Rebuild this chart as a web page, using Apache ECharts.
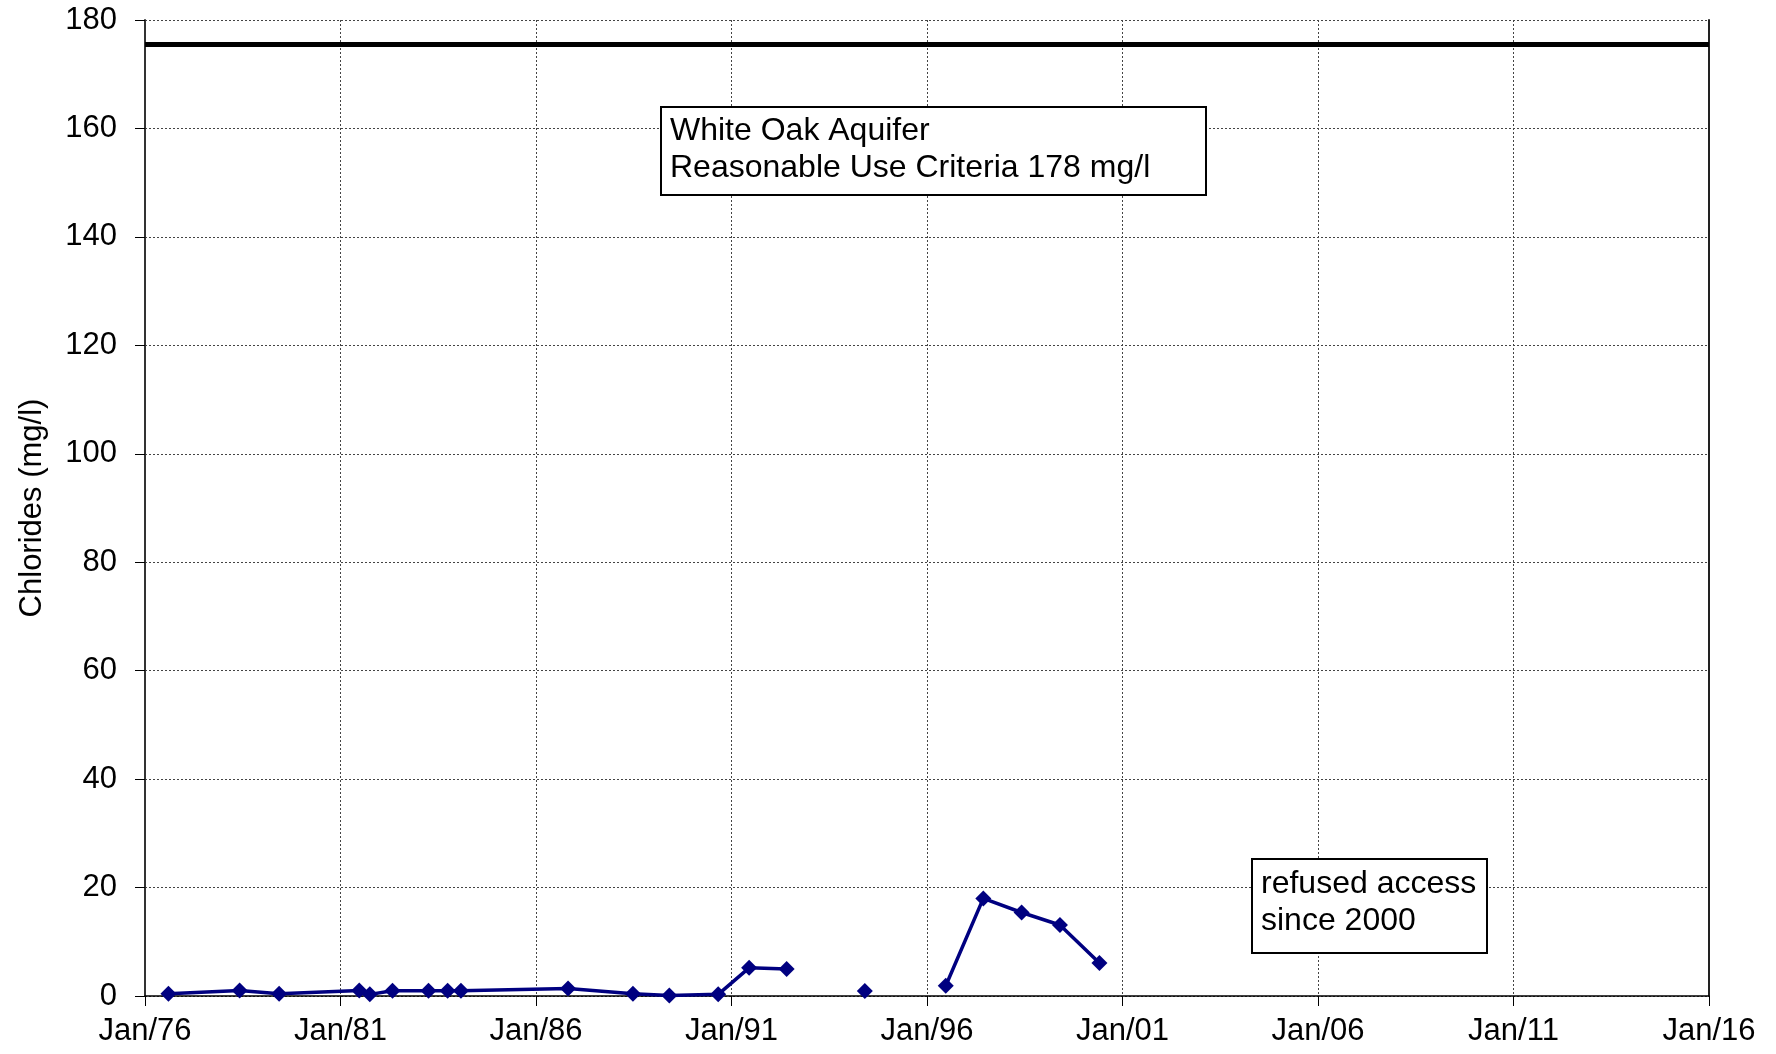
<!DOCTYPE html>
<html>
<head>
<meta charset="utf-8">
<title>White Oak Aquifer chlorides</title>
<script src="https://cdn.jsdelivr.net/npm/echarts@6/dist/echarts.min.js"></script>
<style>
  html, body { margin: 0; padding: 0; background: #fff; }
  #chart { width: 1776px; height: 1054px; }
</style>
</head>
<body>
<div id="chart"></div>
<script>
// sample dates as decimal years, chloride values in mg/l (null = gap in the line)
const sampleYears = [1976.60, 1978.42, 1979.43, 1981.48, 1981.75, 1982.33, 1983.25, 1983.74, 1984.08,
  1986.82, 1988.48, 1989.41, 1990.66, 1991.45, 1992.41, 1993.40, 1994.41, 1995.40,
  1996.48, 1997.44, 1998.42, 1999.40, 2000.41];
const chlorides = [0.4, 1.0, 0.4, 1.0, 0.3, 0.95, 0.95, 0.95, 0.95,
  1.4, 0.4, 0.1, 0.3, 5.2, 5.0, null, 0.9, null,
  1.9, 18.0, 15.4, 13.1, 6.1];

// reasonable use criteria line, as drawn
const criteriaYears = [1976, 2016];
const criteriaLevel = [175.5, 175.5];

const yearTicks = [1976, 1981, 1986, 1991, 1996, 2001, 2006, 2011, 2016];
const FONT = '"Liberation Sans", Arial, sans-serif';

const chart = echarts.init(document.getElementById('chart'));

const gridLine = { show: true, lineStyle: { color: '#444', width: 1, type: [2, 2] } };

chart.setOption({
  animation: false,
  backgroundColor: '#fff',
  grid: { left: 145, right: 67, top: 20, bottom: 58, containLabel: false, outerBoundsMode: 'none' },
  xAxis: {
    type: 'value',
    min: yearTicks[0],
    max: yearTicks[yearTicks.length - 1],
    interval: 5,
    axisLine: { lineStyle: { color: '#000', width: 1.5 } },
    axisTick: { show: true, length: 10, lineStyle: { color: '#000' } },
    axisLabel: {
      margin: 20,
      fontSize: 31,
      fontFamily: FONT,
      color: '#000',
      formatter: v => 'Jan/' + String(Math.round(v)).slice(2),
    },
    splitLine: gridLine,
  },
  yAxis: [
    {
      type: 'value',
      min: 0,
      max: 180,
      interval: 20,
      name: 'Chlorides (mg/l)',
      nameLocation: 'middle',
      nameGap: 97,
      nameTextStyle: { fontSize: 31, fontFamily: FONT, color: '#000' },
      axisLine: { show: true, lineStyle: { color: '#333', width: 2 } },
      axisTick: { show: true, length: 10, lineStyle: { color: '#000' } },
      axisLabel: { margin: 28, fontSize: 31, fontFamily: FONT, color: '#000' },
      splitLine: gridLine,
    },
    {
      type: 'value',
      position: 'right',
      min: 0,
      max: 180,
      interval: 20,
      axisLine: { show: true, lineStyle: { color: '#222', width: 2 } },
      axisTick: { show: false },
      axisLabel: { show: false },
      splitLine: { show: false },
    },
  ],
  series: [
    {
      name: 'criteria',
      type: 'line',
      data: criteriaYears.map((x, i) => [x, criteriaLevel[i]]),
      showSymbol: false,
      lineStyle: { color: '#000', width: 5 },
      silent: true,
      z: 3,
    },
    {
      name: 'chlorides',
      type: 'line',
      data: sampleYears.map((x, i) => [x, chlorides[i] == null ? '-' : chlorides[i]]),
      symbol: 'diamond',
      symbolSize: 16,
      showAllSymbol: true,
      connectNulls: false,
      clip: false,
      itemStyle: { color: '#000080' },
      lineStyle: { color: '#000080', width: 3.5 },
      z: 4,
    },
  ],
  graphic: [
    {
      type: 'rect',
      shape: { x: 661, y: 107, width: 545, height: 88 },
      style: { fill: '#fff', stroke: '#000', lineWidth: 2 },
      z: 10,
    },
    {
      type: 'text',
      x: 670, y: 131,
      style: { text: 'White Oak Aquifer', fontSize: 32, fontFamily: FONT, fill: '#000', verticalAlign: 'middle' },
      z: 11,
    },
    {
      type: 'text',
      x: 670, y: 168,
      style: { text: 'Reasonable Use Criteria 178 mg/l', fontSize: 32, fontFamily: FONT, fill: '#000', verticalAlign: 'middle' },
      z: 11,
    },
    {
      type: 'rect',
      shape: { x: 1252, y: 859, width: 235, height: 94 },
      style: { fill: '#fff', stroke: '#000', lineWidth: 2 },
      z: 10,
    },
    {
      type: 'text',
      x: 1261, y: 884,
      style: { text: 'refused access', fontSize: 32, fontFamily: FONT, fill: '#000', verticalAlign: 'middle' },
      z: 11,
    },
    {
      type: 'text',
      x: 1261, y: 921,
      style: { text: 'since 2000', fontSize: 32, fontFamily: FONT, fill: '#000', verticalAlign: 'middle' },
      z: 11,
    },
  ],
});
</script>
</body>
</html>
